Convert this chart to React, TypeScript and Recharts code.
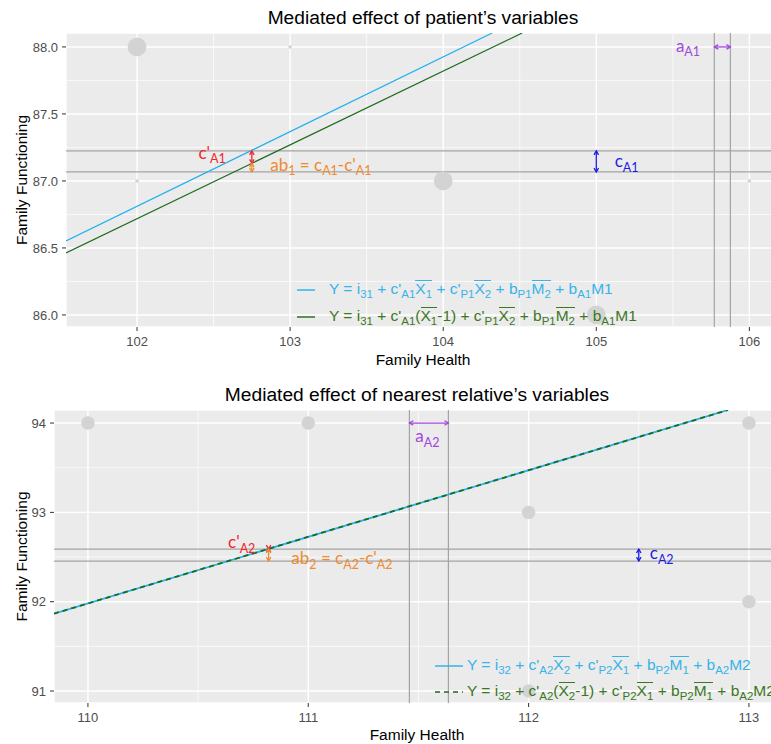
import React from "react";
import {
  ComposedChart,
  Line,
  Scatter,
  XAxis,
  YAxis,
  CartesianGrid,
  ReferenceLine,
  ReferenceDot,
} from "recharts";

const SANS = "'Liberation Sans', Arial, sans-serif";
const NOTE = "Lato, 'Noto Sans', sans-serif";
const RED = "#f3232b";
const ORANGE = "#ef8a2e";
const BLUE = "#1c1ce8";
const PURPLE = "#a246dc";
const LINE_BLUE = "#22b1ee";
const LINE_GREEN = "#1e6b1e";
const TEXT_BLUE = "#35b3ea";
const TEXT_GREEN = "#3a771d";
const REF_GREY = "#a4a4a4";
const POINT_GREY = "#d3d3d3";

// ---- patient's variables (top panel)
const p1XDomain = [101.536, 106.2];
const p1YDomain = [85.91, 88.104];
const p1XTicks = [102, 103, 104, 105, 106];
const p1YTicks = [86, 86.5, 87, 87.5, 88];
const p1XMinor = [102.5, 103.5, 104.5, 105.5];
const p1YMinor = [86.25, 86.75, 87.25, 87.75];
const p1BlueX = [101.536, 104.32];
const p1BlueY = [86.552, 88.104];
const p1GreenX = [101.536, 104.516];
const p1GreenY = [86.463, 88.104];
const p1PointX = [102, 103, 102, 104, 105, 106];
const p1PointY = [88, 88, 87, 87, 86, 87];
const p1PointN = [27, 1, 1, 27, 27, 1];
const p1HLines = [87.224, 87.067];
const p1VLines = [105.771, 105.876];

// ---- nearest relative's variables (bottom panel)
const p2XDomain = [109.846, 113.141];
const p2YDomain = [90.866, 94.146];
const p2XTicks = [110, 111, 112, 113];
const p2YTicks = [91, 92, 93, 94];
const p2XMinor = [110.5, 111.5, 112.5];
const p2YMinor = [91.5, 92.5, 93.5];
const p2BlueX = [109.846, 112.905];
const p2BlueY = [91.866, 94.146];
const p2GreenX = [109.846, 112.905];
const p2GreenY = [91.866, 94.146];
const p2PointX = [110, 111, 112, 113, 113, 112];
const p2PointY = [94, 94, 93, 94, 92, 91];
const p2PointN = [14, 14, 14, 14, 14, 14];
const p2HLines = [92.589, 92.455];
const p2VLines = [111.459, 111.636];

type Part = [string, number];
type Note = { x: number; y: number; parts: Part[]; color: string; anchor: "start" | "end" };
type Arrow = { x: number[]; y: number[]; color: string };

const p1Arrows: Arrow[] = [
  { x: [102.75, 102.75], y: [87.224, 87.132], color: RED },
  { x: [102.75, 102.75], y: [87.132, 87.067], color: ORANGE },
  { x: [105, 105], y: [87.224, 87.067], color: BLUE },
  { x: [105.771, 105.876], y: [88, 88], color: PURPLE },
];
const p1Notes: Note[] = [
  { x: 102.58, y: 87.164, parts: [["c'", 0], ["A1", 1]], color: RED, anchor: "end" },
  {
    x: 102.87,
    y: 87.075,
    parts: [["ab", 0], ["1", 1], [" = c", 0], ["A1", 1], ["-c'", 0], ["A1", 1]],
    color: ORANGE,
    anchor: "start",
  },
  { x: 105.12, y: 87.104, parts: [["c", 0], ["A1", 1]], color: BLUE, anchor: "start" },
  { x: 105.52, y: 87.963, parts: [["a", 0], ["A1", 1]], color: PURPLE, anchor: "start" },
];

const p2Arrows: Arrow[] = [
  { x: [110.82, 110.82], y: [92.596, 92.589], color: RED },
  { x: [110.82, 110.82], y: [92.589, 92.455], color: ORANGE },
  { x: [112.5, 112.5], y: [92.589, 92.455], color: BLUE },
  { x: [111.459, 111.636], y: [94, 94], color: PURPLE },
];
const p2Notes: Note[] = [
  { x: 110.76, y: 92.6, parts: [["c'", 0], ["A2", 1]], color: RED, anchor: "end" },
  {
    x: 110.923,
    y: 92.42,
    parts: [["ab", 0], ["2", 1], [" = c", 0], ["A2", 1], ["-c'", 0], ["A2", 1]],
    color: ORANGE,
    anchor: "start",
  },
  { x: 112.55, y: 92.477, parts: [["c", 0], ["A2", 1]], color: BLUE, anchor: "start" },
  { x: 111.486, y: 93.787, parts: [["a", 0], ["A2", 1]], color: PURPLE, anchor: "start" },
];

function rows(xs: number[], ys: number[], ns?: number[]) {
  return xs.map((x, i) => ({ x, y: ys[i], n: ns ? ns[i] : 1 }));
}

const arrowShape = (color: string) => (p: any) => {
  const { x1, y1, x2, y2 } = p;
  const len = 4.5;
  const spread = Math.PI / 6;
  const head = (tx: number, ty: number, fx: number, fy: number) => {
    const a = Math.atan2(ty - fy, tx - fx);
    return (
      `M${tx - len * Math.cos(a - spread)},${ty - len * Math.sin(a - spread)}` +
      `L${tx},${ty}L${tx - len * Math.cos(a + spread)},${ty - len * Math.sin(a + spread)}`
    );
  };
  return (
    <g>
      <line x1={x1} y1={y1} x2={x2} y2={y2} stroke={color} strokeWidth={1.3} />
      <path d={head(x2, y2, x1, y1) + head(x1, y1, x2, y2)} stroke={color} strokeWidth={1.3} fill="none" />
    </g>
  );
};

const noteShape = (n: Note) => (p: any) => {
  let shifted = false;
  return (
    <text
      x={p.cx}
      y={p.cy}
      fill={n.color}
      fontFamily={NOTE}
      fontSize={17}
      textAnchor={n.anchor}
      style={{ whiteSpace: "pre" }}
    >
      {n.parts.map(([s, sub], i) => {
        const dy = sub && !shifted ? 4.5 : !sub && shifted ? -4.5 : 0;
        shifted = !!sub;
        return (
          <tspan key={i} dy={dy} fontSize={sub ? 12.5 : 17}>
            {s}
          </tspan>
        );
      })}
    </text>
  );
};

const dotShape = (p: any) => {
  const n = p.payload?.n ?? p.n ?? 1;
  return <circle cx={p.cx} cy={p.cy} r={1.8 * Math.sqrt(n)} fill={POINT_GREY} />;
};

const xLabel = (dy: number) => (props: any) => {
  const vb = props.viewBox;
  return (
    <text x={vb.x + vb.width / 2} y={vb.y + dy} textAnchor="middle" fontSize={15.5} fontFamily={SANS} fill="#000">
      Family Health
    </text>
  );
};

const yLabel = (props: any) => {
  const vb = props.viewBox;
  const cx = 26.5;
  const cy = vb.y + vb.height / 2;
  return (
    <text
      x={cx}
      y={cy}
      transform={`rotate(-90 ${cx} ${cy})`}
      textAnchor="middle"
      fontSize={15.5}
      fontFamily={SANS}
      fill="#000"
    >
      Family Functioning
    </text>
  );
};

interface PanelProps {
  xDomain: number[];
  yDomain: number[];
  xTicks: number[];
  yTicks: number[];
  xMinor: number[];
  yMinor: number[];
  yFmt: (v: number) => string;
  marginTop: number;
  yAxisW: number;
  xAxisH: number;
  xLabelDy: number;
  blue: { x: number; y: number }[];
  green: { x: number; y: number }[];
  greenDash?: string;
  lineW: number;
  points: { x: number; y: number; n: number }[];
  hLines: number[];
  vLines: number[];
  arrows: Arrow[];
  notes: Note[];
}

function Panel(p: PanelProps) {
  const tick = { fontSize: 13, fill: "#4d4d4d", fontFamily: SANS };
  return (
    <ComposedChart width={780} height={372} margin={{ top: p.marginTop, right: 0, bottom: 0, left: 0 }}>
      <CartesianGrid
        fill="#EBEBEB"
        stroke="#ffffff"
        strokeWidth={0.7}
        horizontalValues={p.yMinor}
        verticalValues={p.xMinor}
      />
      <CartesianGrid stroke="#ffffff" strokeWidth={1.4} />
      <XAxis
        type="number"
        dataKey="x"
        domain={p.xDomain}
        ticks={p.xTicks}
        allowDataOverflow
        height={p.xAxisH}
        axisLine={false}
        tickSize={4}
        tickMargin={6}
        tick={tick}
        tickLine={{ stroke: "#333" }}
        label={{ content: xLabel(p.xLabelDy) }}
      />
      <YAxis
        type="number"
        domain={p.yDomain}
        ticks={p.yTicks}
        allowDataOverflow
        width={p.yAxisW}
        axisLine={false}
        tickSize={4}
        tickMargin={4}
        tick={tick}
        tickLine={{ stroke: "#333" }}
        tickFormatter={p.yFmt}
        label={{ content: yLabel }}
      />
      <Scatter data={p.points} dataKey="y" shape={dotShape} isAnimationActive={false} />
      {p.hLines.map((v) => (
        <ReferenceLine key={`h${v}`} y={v} stroke={REF_GREY} strokeWidth={1.2} />
      ))}
      {p.vLines.map((v) => (
        <ReferenceLine key={`v${v}`} x={v} stroke={REF_GREY} strokeWidth={1.2} />
      ))}
      <Line
        data={p.blue}
        dataKey="y"
        type="linear"
        stroke={LINE_BLUE}
        strokeWidth={p.lineW}
        dot={false}
        activeDot={false}
        isAnimationActive={false}
      />
      <Line
        data={p.green}
        dataKey="y"
        type="linear"
        stroke={LINE_GREEN}
        strokeWidth={p.lineW}
        strokeDasharray={p.greenDash}
        dot={false}
        activeDot={false}
        isAnimationActive={false}
      />
      {p.arrows.map((a, i) => (
        <ReferenceLine
          key={`a${i}`}
          segment={[
            { x: a.x[0], y: a.y[0] },
            { x: a.x[1], y: a.y[1] },
          ]}
          stroke={a.color}
          shape={arrowShape(a.color)}
        />
      ))}
      {p.notes.map((n, i) => (
        <ReferenceDot key={`n${i}`} x={n.x} y={n.y} r={0} shape={noteShape(n)} />
      ))}
    </ComposedChart>
  );
}

const Sb = ({ t }: { t: string }) => (
  <span style={{ fontSize: "0.74em", verticalAlign: "-0.32em", lineHeight: 1 }}>{t}</span>
);
const Ov = ({ v, s }: { v: string; s: string }) => (
  <span
    style={{
      display: "inline-block",
      borderTop: "1.2px solid currentColor",
      lineHeight: 1,
      paddingTop: 0,
      marginTop: -2,
    }}
  >
    {v}
    <Sb t={s} />
  </span>
);

const Key = ({ w, color, dash }: { w: number; color: string; dash?: string }) => (
  <svg width={w} height={4} style={{ display: "block" }}>
    <line x1={0} y1={2} x2={w} y2={2} stroke={color} strokeWidth={1.4} strokeDasharray={dash} />
  </svg>
);

const rowStyle: React.CSSProperties = {
  display: "flex",
  alignItems: "center",
  whiteSpace: "nowrap",
  fontFamily: SANS,
  fontSize: 15.5,
};

export default function App() {
  return (
    <div
      style={{
        position: "absolute",
        left: 0,
        top: 0,
        width: 771,
        height: 744,
        overflow: "hidden",
        background: "#fff",
      }}
    >
      <div style={{ position: "absolute", left: 0, top: 0 }}>
        <Panel
          xDomain={p1XDomain}
          yDomain={p1YDomain}
          xTicks={p1XTicks}
          yTicks={p1YTicks}
          xMinor={p1XMinor}
          yMinor={p1YMinor}
          yFmt={(v) => v.toFixed(1)}
          marginTop={33}
          yAxisW={66}
          xAxisH={45}
          xLabelDy={38}
          blue={rows(p1BlueX, p1BlueY)}
          green={rows(p1GreenX, p1GreenY)}
          lineW={1.2}
          points={rows(p1PointX, p1PointY, p1PointN)}
          hLines={p1HLines}
          vLines={p1VLines}
          arrows={p1Arrows}
          notes={p1Notes}
        />
      </div>
      <div style={{ position: "absolute", left: 0, top: 372 }}>
        <Panel
          xDomain={p2XDomain}
          yDomain={p2YDomain}
          xTicks={p2XTicks}
          yTicks={p2YTicks}
          xMinor={p2XMinor}
          yMinor={p2YMinor}
          yFmt={(v) => String(v)}
          marginTop={38}
          yAxisW={54}
          xAxisH={41}
          xLabelDy={36.5}
          blue={rows(p2BlueX, p2BlueY)}
          green={rows(p2GreenX, p2GreenY)}
          greenDash="5 4"
          lineW={1.8}
          points={rows(p2PointX, p2PointY, p2PointN)}
          hLines={p2HLines}
          vLines={p2VLines}
          arrows={p2Arrows}
          notes={p2Notes}
        />
      </div>

      <div
        style={{
          position: "absolute",
          left: 66,
          width: 714,
          top: 7.7,
          textAlign: "center",
          fontFamily: SANS,
          fontSize: 19.2,
          lineHeight: "19.2px",
          whiteSpace: "nowrap",
        }}
      >
        Mediated effect of patient’s variables
      </div>
      <div
        style={{
          position: "absolute",
          left: 54,
          width: 726,
          top: 384.7,
          textAlign: "center",
          fontFamily: SANS,
          fontSize: 19.2,
          lineHeight: "19.2px",
          whiteSpace: "nowrap",
        }}
      >
        Mediated effect of nearest relative’s variables
      </div>

      <div style={{ position: "absolute", left: 297, top: 276.5 }}>
        <div style={{ ...rowStyle, height: 27, color: TEXT_BLUE }}>
          <Key w={18} color={LINE_BLUE} />
          <span style={{ marginLeft: 14 }}>
            Y = i<Sb t="31" /> + c'<Sb t="A1" />
            <Ov v="X" s="1" /> + c'<Sb t="P1" />
            <Ov v="X" s="2" /> + b<Sb t="P1" />
            <Ov v="M" s="2" /> + b<Sb t="A1" />M1
          </span>
        </div>
        <div style={{ ...rowStyle, height: 27, color: TEXT_GREEN }}>
          <Key w={18} color={LINE_GREEN} />
          <span style={{ marginLeft: 14 }}>
            Y = i<Sb t="31" /> + c'<Sb t="A1" />(<Ov v="X" s="1" />-1) + c'<Sb t="P1" />
            <Ov v="X" s="2" /> + b<Sb t="P1" />
            <Ov v="M" s="2" /> + b<Sb t="A1" />M1
          </span>
        </div>
      </div>

      <div style={{ position: "absolute", left: 435, top: 653 }}>
        <div style={{ ...rowStyle, height: 26, color: TEXT_BLUE }}>
          <Key w={28} color={LINE_BLUE} />
          <span style={{ marginLeft: 4 }}>
            Y = i<Sb t="32" /> + c'<Sb t="A2" />
            <Ov v="X" s="2" /> + c'<Sb t="P2" />
            <Ov v="X" s="1" /> + b<Sb t="P2" />
            <Ov v="M" s="1" /> + b<Sb t="A2" />M2
          </span>
        </div>
        <div style={{ ...rowStyle, height: 26, color: TEXT_GREEN }}>
          <Key w={28} color={LINE_GREEN} dash="5 4" />
          <span style={{ marginLeft: 4 }}>
            Y = i<Sb t="32" /> + c'<Sb t="A2" />(<Ov v="X" s="2" />-1) + c'<Sb t="P2" />
            <Ov v="X" s="1" /> + b<Sb t="P2" />
            <Ov v="M" s="1" /> + b<Sb t="A2" />M2
          </span>
        </div>
      </div>
    </div>
  );
}
